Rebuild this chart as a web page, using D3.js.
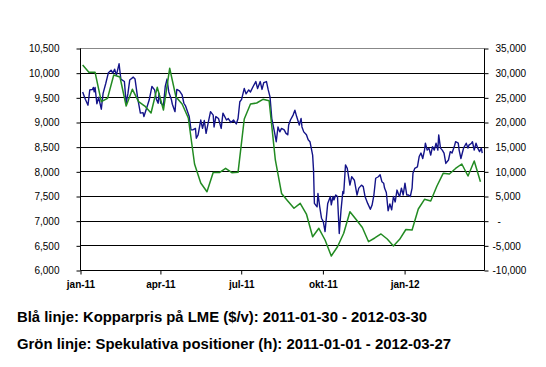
<!DOCTYPE html>
<html>
<head>
<meta charset="utf-8">
<script src="https://cdn.jsdelivr.net/npm/d3@7"></script>
<style>
  body { margin:0; background:#fff; }
  text { font-family: "Liberation Sans", Arial, sans-serif; }
</style>
</head>
<body>
<script>
// copper price (left axis)
let blueDates = ['2011-01-04','2011-01-07','2011-01-10','2011-01-12','2011-01-15','2011-01-16','2011-01-17','2011-01-18','2011-01-20','2011-01-22','2011-01-25','2011-01-27','2011-01-30',
 '2011-02-02','2011-02-05','2011-02-07','2011-02-09','2011-02-11','2011-02-14','2011-02-16','2011-02-20','2011-02-22','2011-02-24','2011-02-26',
 '2011-03-02','2011-03-04','2011-03-07','2011-03-10','2011-03-13','2011-03-14','2011-03-17','2011-03-20','2011-03-23','2011-03-26','2011-03-28','2011-03-30','2011-03-31',
 '2011-04-02','2011-04-05','2011-04-07','2011-04-09','2011-04-11','2011-04-14','2011-04-15','2011-04-18','2011-04-20','2011-04-23','2011-04-26','2011-04-28','2011-04-30',
 '2011-05-04','2011-05-06','2011-05-08','2011-05-11','2011-05-12','2011-05-14','2011-05-17','2011-05-19','2011-05-21','2011-05-23','2011-05-26','2011-05-28','2011-05-31',
 '2011-06-01','2011-06-03','2011-06-06','2011-06-09','2011-06-11','2011-06-15','2011-06-17','2011-06-20','2011-06-23','2011-06-26','2011-06-28','2011-06-30',
 '2011-07-02','2011-07-05','2011-07-07','2011-07-10','2011-07-12','2011-07-15','2011-07-18','2011-07-20','2011-07-23','2011-07-25','2011-07-27','2011-07-30',
 '2011-08-01','2011-08-03','2011-08-05','2011-08-08','2011-08-10','2011-08-12','2011-08-14','2011-08-16','2011-08-19','2011-08-21','2011-08-23','2011-08-24','2011-08-26','2011-08-29','2011-08-31',
 '2011-09-02','2011-09-05','2011-09-07','2011-09-08','2011-09-10','2011-09-13','2011-09-15','2011-09-17','2011-09-20','2011-09-21','2011-09-22','2011-09-25','2011-09-26','2011-09-28','2011-09-30',
 '2011-10-02','2011-10-04','2011-10-07','2011-10-10','2011-10-11','2011-10-13','2011-10-14','2011-10-16','2011-10-18','2011-10-20','2011-10-22','2011-10-24','2011-10-25','2011-10-27','2011-10-29',
 '2011-11-01','2011-11-03','2011-11-06','2011-11-09','2011-11-11','2011-11-14','2011-11-16','2011-11-18','2011-11-21','2011-11-24','2011-11-26','2011-11-28','2011-11-30',
 '2011-12-03','2011-12-05','2011-12-07','2011-12-09','2011-12-10','2011-12-12','2011-12-14','2011-12-16','2011-12-18','2011-12-20','2011-12-22','2011-12-24','2011-12-26','2011-12-27','2011-12-29','2011-12-31',
 '2012-01-02','2012-01-04','2012-01-06','2012-01-08','2012-01-10','2012-01-11','2012-01-13','2012-01-16','2012-01-18','2012-01-20','2012-01-22','2012-01-24','2012-01-25','2012-01-27','2012-01-29','2012-01-31',
 '2012-02-02','2012-02-04','2012-02-06','2012-02-08','2012-02-09','2012-02-11','2012-02-13','2012-02-15','2012-02-17','2012-02-20','2012-02-22','2012-02-24','2012-02-27','2012-02-28',
 '2012-03-02','2012-03-03','2012-03-05','2012-03-08','2012-03-11','2012-03-13','2012-03-14','2012-03-17','2012-03-18','2012-03-20','2012-03-22','2012-03-24','2012-03-26','2012-03-28','2012-03-29'];
let blueValues = [9610,9460,9340,9650,9660,9700,9610,9700,9370,9500,9260,9580,9780,
 10000,10050,9990,10070,9950,10180,9870,9820,9380,9580,9850,
 9910,9870,9480,9180,9190,9110,9280,9450,9720,9650,9460,9380,9580,
 9380,9340,9720,9870,9610,9450,9360,9210,9660,9630,9550,9380,9320,
 9110,8840,8840,8870,8670,8740,9040,8870,9030,8770,9040,9210,9140,
 8900,9110,9070,8870,9180,9040,9070,8990,9040,8960,9070,9410,
 9460,9680,9570,9650,9610,9720,9820,9680,9820,9660,9800,9820,
 9650,9510,9070,8800,8600,8900,8800,8870,8840,8770,8740,8940,9040,9140,9240,
 9110,8940,9070,8900,8800,8740,8640,8600,8330,8030,7350,7280,7550,7280,7050,
 6980,6780,7350,7490,7320,7490,7420,7520,7490,6740,7220,7590,7550,8130,8060,
 7720,7890,7820,7520,7660,7720,7690,7490,7350,7230,7320,7520,7860,
 7890,7930,7790,7760,7660,7570,7200,7340,7220,7490,7380,7620,7520,7490,7660,7520,
 7760,7520,7520,7490,7660,7960,8060,8090,8300,8370,8260,8430,8570,8430,8470,8330,
 8500,8430,8570,8430,8740,8470,8430,8370,8160,8230,8400,8370,8530,8600,
 8570,8430,8260,8470,8570,8470,8530,8570,8600,8430,8570,8470,8400,8470,8370];

// speculative positions (right axis), weekly from 2011-01-04
let greenValues = [31550,30070,30070,24120,24800,29530,29120,23240,26630,24120,23240,21820,27030,22430,30890,25130,
 23650,20810,11490,7640,5870,9760,9760,10620,9720,9800,20610,23650,23850,24600,24320,12300,
 5510,3990,2510,3520,1350,-3250,-1550,-3920,-7160,-5280,-2560,1820,240,-1390,-4260,-3510,
 -2700,-3720,-5140,-3780,-1790,-1890,2370,4330,3990,7030,9600,9460,10580,11490,9050,12100,7900];

let leftTicks = [6000,6500,7000,7500,8000,8500,9000,9500,10000,10500];
let rightTicks = [-10000,-5000,0,5000,10000,15000,20000,25000,30000,35000];
let xTickDates = ['2011-01-01','2011-04-01','2011-07-01','2011-10-01','2012-01-01'];
let xTickLabels = ['jan-11','apr-11','jul-11','okt-11','jan-12'];
let captions = ['Blå linje: Kopparpris på LME ($/v): 2011-01-30 - 2012-03-30',
                'Grön linje: Spekulativa positioner (h): 2011-01-01 - 2012-03-27'];

let w = 546, h = 367;
let pLeft = 80, pRight = 484, pTop = 48, pBottom = 270;
let parse = d3.timeParse('%Y-%m-%d');

let svg = d3.select('body').append('svg')
  .attr('width', w)
  .attr('height', h);

let x = d3.scaleTime()
  .domain([parse('2011-01-01'), parse('2012-03-31')])
  .range([pLeft, pRight]);

let yL = d3.scaleLinear().domain([6000, 10500]).range([pBottom, pTop]);
let yR = d3.scaleLinear().domain([-10000, 35000]).range([pBottom, pTop]);

// gridlines
svg.append('g')
  .selectAll('line')
  .data(leftTicks.slice(1))
  .enter()
  .append('line')
  .attr('x1', pLeft).attr('x2', pRight)
  .attr('y1', d => Math.round(yL(d)) + 0.5)
  .attr('y2', d => Math.round(yL(d)) + 0.5)
  .attr('stroke', d => d === 10500 ? '#888' : '#000')
  .attr('stroke-width', 1);

let fmt = d3.format(',');

let axL = svg.append('g')
  .attr('transform', `translate(${pLeft + 0.5},0.5)`)
  .call(d3.axisLeft(yL).tickValues(leftTicks).tickSize(4).tickPadding(17).tickFormat(fmt));

let axR = svg.append('g')
  .attr('transform', `translate(${pRight + 0.5},0.5)`)
  .call(d3.axisRight(yR).tickValues(rightTicks).tickSize(4).tickPadding(7)
    .tickFormat(d => d === 0 ? '-' : fmt(d).replace('−', '-')));
axR.selectAll('text')
  .attr('dx', d => d < 0 ? -3 : (d === 0 ? 2 : 0));

let axB = svg.append('g')
  .attr('transform', `translate(0.5,${pBottom + 0.5})`)
  .call(d3.axisBottom(x).tickValues(xTickDates.map(parse)).tickSize(4).tickPadding(6)
    .tickFormat((d, i) => xTickLabels[i]));

[axL, axR, axB].forEach(a => {
  a.selectAll('.domain').attr('stroke', '#000');
  a.selectAll('.tick line').attr('stroke', '#000');
  a.selectAll('text').attr('font-size', 10).attr('fill', '#000')
    .attr('font-family', '"Liberation Sans", Arial, sans-serif');
});
axL.select('.domain').attr('d', `M0,${pTop}V${pBottom}`);
axR.select('.domain').attr('d', `M0,${pTop}V${pBottom}`);
axB.select('.domain').attr('d', `M${pLeft},0H${pRight}`);
axB.selectAll('text').attr('font-weight', 'bold');

// series
let blue = blueDates.map((d, i) => [parse(d), blueValues[i]]);
let green = d3.timeTuesday.range(parse('2011-01-04'), parse('2012-03-28'))
  .map((d, i) => [d, greenValues[i]]);

svg.append('path')
  .datum(blue)
  .attr('fill', 'none')
  .attr('stroke', '#141489')
  .attr('stroke-width', 1.4)
  .attr('stroke-linejoin', 'round')
  .attr('d', d3.line().x(d => x(d[0])).y(d => yL(d[1])));

svg.append('path')
  .datum(green)
  .attr('fill', 'none')
  .attr('stroke', '#228b22')
  .attr('stroke-width', 1.5)
  .attr('stroke-linejoin', 'round')
  .attr('d', d3.line().x(d => x(d[0])).y(d => yR(d[1])));

// captions under the chart
svg.selectAll('.caption')
  .data(captions)
  .enter()
  .append('text')
  .attr('class', 'caption')
  .attr('x', 17)
  .attr('y', (d, i) => 322 + i * 27)
  .attr('font-family', '"Liberation Sans Narrow", "DejaVu Sans Condensed", sans-serif')
  .attr('font-weight', 'bold')
  .attr('font-size', 14)
  .attr('textLength', (d, i) => i === 0 ? 410 : 434)
  .attr('lengthAdjust', 'spacingAndGlyphs')
  .text(d => d);
</script>
</body>
</html>
